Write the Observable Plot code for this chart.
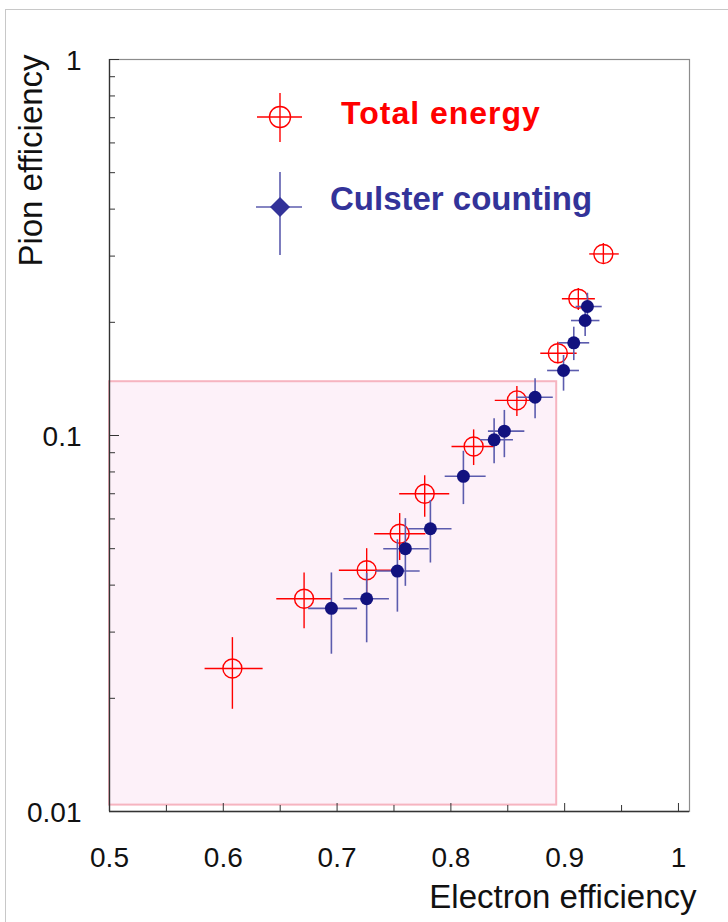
<!DOCTYPE html>
<html>
<head>
<meta charset="utf-8">
<script src="https://cdn.jsdelivr.net/npm/d3@7"></script>
<script src="https://cdn.jsdelivr.net/npm/@observablehq/plot@0.6"></script>
<style>
  body { margin: 0; background: #fff; }
  #wrap { position: relative; width: 728px; height: 922px; overflow: hidden; font-family: "Liberation Sans", Arial, sans-serif; }
  #border { position: absolute; left: 5px; top: 9px; width: 740px; height: 940px; border-left: 1.5px solid #c8c8c8; border-top: 1.5px solid #c8c8c8; }
  #chart { position: absolute; left: 0; top: 0; }
  #legend { position: absolute; left: 0; top: 0; }
</style>
</head>
<body>
<div id="wrap">
  <div id="border"></div>
  <div id="chart"></div>
  <svg id="legend" width="728" height="260"></svg>
</div>
<script>
// ---- Axis ticks ----
const xTicks = [0.5, 0.6, 0.7, 0.8, 0.9, 1];
const xMinorTicks = [0.55, 0.65, 0.75, 0.85, 0.95];
const yTicks = [1, 0.1, 0.01];
const yMinorTicks = [0.02, 0.03, 0.04, 0.05, 0.06, 0.07, 0.08, 0.09,
                     0.2, 0.3, 0.4, 0.5, 0.6, 0.7, 0.8, 0.9];

// ---- Axis titles & legend labels ----
const xTitle = "Electron efficiency";
const yTitle = "Pion efficiency";
const seriesNames = ["Total energy", "Culster counting"];

// ---- Shaded region (electron eff. < 0.893, pion eff. < 0.139) ----
const regionX = [0.5, 0.893];
const regionY = [0.0104, 0.139];

// ---- Series 1: Total energy ----
const teX    = [0.608, 0.671, 0.726, 0.755, 0.777, 0.820, 0.858, 0.894, 0.912, 0.934];
const teY    = [0.0240, 0.0368, 0.0438, 0.0548, 0.0700, 0.0935, 0.124, 0.1655, 0.231, 0.304];
const teXlo  = [0.584, 0.647, 0.702, 0.733, 0.755, 0.801, 0.839, 0.879, 0.898, 0.922];
const teXhi  = [0.635, 0.695, 0.749, 0.778, 0.799, 0.839, 0.870, 0.911, 0.927, 0.948];
const teYlo  = [0.0187, 0.0306, 0.0382, 0.0465, 0.0606, 0.0832, 0.1123, 0.1551, 0.215, 0.287];
const teYhi  = [0.0290, 0.0431, 0.0500, 0.0620, 0.0782, 0.1035, 0.1350, 0.1770, 0.246, 0.324];

// ---- Series 2: Cluster counting ----
const ccX    = [0.695, 0.726, 0.753, 0.760, 0.782, 0.811, 0.838, 0.847, 0.874, 0.899, 0.908, 0.918, 0.920];
const ccY    = [0.0347, 0.0368, 0.0436, 0.0500, 0.0565, 0.0779, 0.0974, 0.1027, 0.1264, 0.1489, 0.1764, 0.2022, 0.2203];
const ccXlo  = [0.675, 0.706, 0.734, 0.741, 0.763, 0.795, 0.826, 0.833, 0.858, 0.885, 0.895, 0.906, 0.910];
const ccXhi  = [0.718, 0.746, 0.773, 0.781, 0.801, 0.831, 0.855, 0.865, 0.890, 0.913, 0.922, 0.931, 0.933];
const ccYlo  = [0.0262, 0.0281, 0.0339, 0.0397, 0.0458, 0.0655, 0.0841, 0.0873, 0.1108, 0.1312, 0.1582, 0.1834, 0.2020];
const ccYhi  = [0.0431, 0.0430, 0.0528, 0.0601, 0.0672, 0.0908, 0.1108, 0.1166, 0.1415, 0.1632, 0.1941, 0.2194, 0.2390];

// ---- Colours ----
const RED = "#ff0000";
const NAVY = "#12127f";
const BLUEBAR = "#5c5cae";
const LEGEND_BLUE = "#333399";

const totalEnergy = teX.map((x, i) => ({x, y: teY[i], xlo: teXlo[i], xhi: teXhi[i], ylo: teYlo[i], yhi: teYhi[i]}));
const clusterCounting = ccX.map((x, i) => ({x, y: ccY[i], xlo: ccXlo[i], xhi: ccXhi[i], ylo: ccYlo[i], yhi: ccYhi[i]}));
const region = [{x1: regionX[0], x2: regionX[1], y1: regionY[0], y2: regionY[1]}];

const chart = Plot.plot({
  width: 728,
  height: 922,
  marginTop: 59,
  marginLeft: 109,
  marginRight: 39,
  marginBottom: 111,
  x: {domain: [0.5, 1.0097]},
  y: {type: "log", domain: [0.01, 1]},
  style: {fontFamily: "'Liberation Sans', Arial, sans-serif", background: "transparent", overflow: "visible", color: "#000"},
  marks: [
    Plot.rect(region, {x1: "x1", x2: "x2", y1: "y1", y2: "y2", fill: "#fdf1f9", stroke: "#f6b4c0", strokeWidth: 2}),
    Plot.frame({stroke: "#8c8c8c", strokeWidth: 1.2}),
    Plot.ruleX([0.5], {stroke: "#333", strokeWidth: 1.3}),
    Plot.ruleY([0.01], {stroke: "#333", strokeWidth: 1.3}),
    // inward ticks
    Plot.axisX(xMinorTicks, {anchor: "bottom", tickSize: -6, tickFormat: () => "", stroke: "#333", label: null}),
    Plot.axisX(xTicks, {anchor: "bottom", tickSize: -8, tickFormat: () => "", stroke: "#333", label: null}),
    Plot.axisY(yMinorTicks, {anchor: "left", tickSize: -6, tickFormat: () => "", stroke: "#333", label: null}),
    Plot.axisY(yTicks, {anchor: "left", tickSize: -10, tickFormat: () => "", stroke: "#333", label: null}),
    // tick labels
    Plot.axisX(xTicks, {anchor: "bottom", tickSize: 0, tickPadding: 36, fontSize: 28, tickFormat: d => String(d), label: null, fill: "#111"}),
    Plot.axisY(yTicks, {anchor: "left", tickSize: 0, tickPadding: 28, fontSize: 28, dy: 2, tickFormat: d => String(d), label: null, fill: "#111"}),
    // axis titles
    Plot.text([xTitle], {text: d => d, frameAnchor: "bottom-right", dx: 7, dy: 96, textAnchor: "end", fontSize: 33, fill: "#111"}),
    Plot.text([yTitle], {text: d => d, frameAnchor: "top-left", dx: -91, dy: 101, rotate: -90, textAnchor: "middle", fontSize: 33, fill: "#111"}),
    // Total energy
    Plot.ruleX(totalEnergy, {x: "x", y1: "ylo", y2: "yhi", stroke: RED, strokeWidth: 1.4}),
    Plot.ruleY(totalEnergy, {y: "y", x1: "xlo", x2: "xhi", stroke: RED, strokeWidth: 1.4}),
    Plot.dot(totalEnergy, {x: "x", y: "y", r: 9.5, stroke: RED, fill: "none", strokeWidth: 1.4}),
    // Cluster counting
    Plot.ruleX(clusterCounting, {x: "x", y1: "ylo", y2: "yhi", stroke: BLUEBAR, strokeWidth: 1.6}),
    Plot.ruleY(clusterCounting, {y: "y", x1: "xlo", x2: "xhi", stroke: BLUEBAR, strokeWidth: 1.6}),
    Plot.dot(clusterCounting, {x: "x", y: "y", r: 6.5, fill: NAVY, stroke: "none"})
  ]
});
document.getElementById("chart").appendChild(chart);

// ---- Legend (inside plot area, top-left) ----
const lg = d3.select("#legend");
const g1 = lg.append("g").attr("transform", "translate(280,117)");
g1.append("line").attr("x1", -23).attr("x2", 22).attr("y1", 0).attr("y2", 0).attr("stroke", RED).attr("stroke-width", 1.4);
g1.append("line").attr("x1", 0).attr("x2", 0).attr("y1", -24).attr("y2", 25).attr("stroke", RED).attr("stroke-width", 1.4);
g1.append("circle").attr("r", 10.5).attr("fill", "none").attr("stroke", RED).attr("stroke-width", 1.4);
lg.append("text").attr("x", 341).attr("y", 124).attr("fill", RED)
  .attr("font-family", "'Liberation Sans', Arial, sans-serif").attr("font-weight", "bold").attr("font-size", 32)
  .attr("letter-spacing", 1)
  .text(seriesNames[0]);
const g2 = lg.append("g").attr("transform", "translate(280,207)");
g2.append("line").attr("x1", -24).attr("x2", 22).attr("y1", 0).attr("y2", 0).attr("stroke", BLUEBAR).attr("stroke-width", 1.6);
g2.append("line").attr("x1", 0).attr("x2", 0).attr("y1", -35).attr("y2", 48).attr("stroke", BLUEBAR).attr("stroke-width", 1.6);
g2.append("path").attr("d", "M0,-10L10,0L0,10L-10,0Z").attr("fill", LEGEND_BLUE);
lg.append("text").attr("x", 330).attr("y", 210).attr("fill", LEGEND_BLUE)
  .attr("font-family", "'Liberation Sans', Arial, sans-serif").attr("font-weight", "bold").attr("font-size", 33)
  .text(seriesNames[1]);
</script>
</body>
</html>
